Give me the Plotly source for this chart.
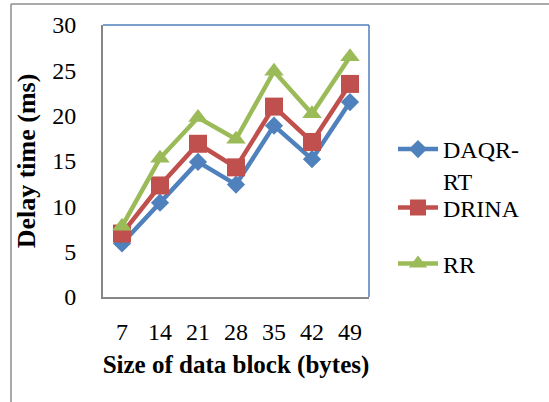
import plotly.graph_objects as go

categories = ["7", "14", "21", "28", "35", "42", "49"]
daqr_rt = [5.9, 10.4, 14.9, 12.4, 18.9, 15.2, 21.5]
drina = [7.0, 12.3, 16.9, 14.3, 21.0, 17.1, 23.5]
rr = [7.8, 15.3, 19.8, 17.4, 24.9, 20.2, 26.5]
series_names = ["DAQR-<br>RT", "DRINA", "RR"]

W, H = 549, 402
L, R, T, B = 103, 369, 25, 297
FONT = "Liberation Serif, serif"
LEGFONT = "Liberation Serif"

def px_x(px):
    return (px - L) / (R - L)

def px_y(py):
    return (B - py) / (B - T)

fig = go.Figure()
styles = [
    dict(color="#4F81BD", symbol="diamond", size=14),
    dict(color="#C0504D", symbol="square", size=18),
    dict(color="#9BBB59", symbol="triangle-up", size=17),
]
legends = ["legend2", "legend3", "legend4"]
for vals, name, st, lg in zip([daqr_rt, drina, rr], series_names, styles, legends):
    fig.add_trace(go.Scatter(
        x=categories, y=vals, name=name, mode="lines+markers",
        line=dict(color=st["color"], width=4.5),
        marker=dict(color=st["color"], symbol=st["symbol"], size=st["size"]),
        legend=lg,
    ))

def leg(ypx, anchor):
    return dict(font=dict(family=LEGFONT, size=24, color="black"),
                bgcolor="rgba(0,0,0,0)", borderwidth=0,
                x=px_x(393), y=px_y(ypx), xanchor="left", yanchor=anchor,
                valign="top", itemwidth=40)

fig.update_layout(
    width=W, height=H,
    margin=dict(l=L, r=W - R, t=T, b=H - B, pad=0),
    paper_bgcolor="white", plot_bgcolor="white",
    font=dict(family=FONT, size=24, color="black"),
    showlegend=True,
    legend2=leg(127, "top"),
    legend3=leg(208, "middle"),
    legend4=leg(264, "middle"),
    xaxis=dict(
        type="category", range=[-0.5, 6.5], showgrid=False, zeroline=False,
        showline=True, linecolor="#868686", linewidth=2, ticks="",
        tickfont=dict(family=FONT, size=24, color="black"), ticklabelstandoff=12,
        title=dict(text="<b>Size of data block (bytes)</b>",
                   font=dict(family=FONT, size=25, color="black"), standoff=12),
    ),
    yaxis=dict(
        range=[0, 30], dtick=5, showgrid=False, zeroline=False,
        showline=True, linecolor="#868686", linewidth=2, ticks="",
        tickfont=dict(family=FONT, size=24, color="black"), ticklabelstandoff=20,
        title=dict(text="<b>Delay time (ms)</b>",
                   font=dict(family=FONT, size=26, color="black"), standoff=9),
    ),
    shapes=[
        dict(type="line", xref="paper", yref="paper", x0=0, x1=1, y0=1, y1=1,
             line=dict(color="#4F81BD", width=1.5), layer="below"),
        dict(type="line", xref="paper", yref="paper", x0=1, x1=1, y0=0, y1=1,
             line=dict(color="#4F81BD", width=1.5), layer="below"),
        dict(type="line", xref="paper", yref="paper", x0=px_x(11), x1=px_x(549),
             y0=px_y(4), y1=px_y(4), line=dict(color="#8C8C8C", width=1.5)),
        dict(type="line", xref="paper", yref="paper", x0=px_x(11), x1=px_x(11),
             y0=px_y(4), y1=px_y(402), line=dict(color="#8C8C8C", width=1.5)),
    ],
)

fig.write_html("out.html")
